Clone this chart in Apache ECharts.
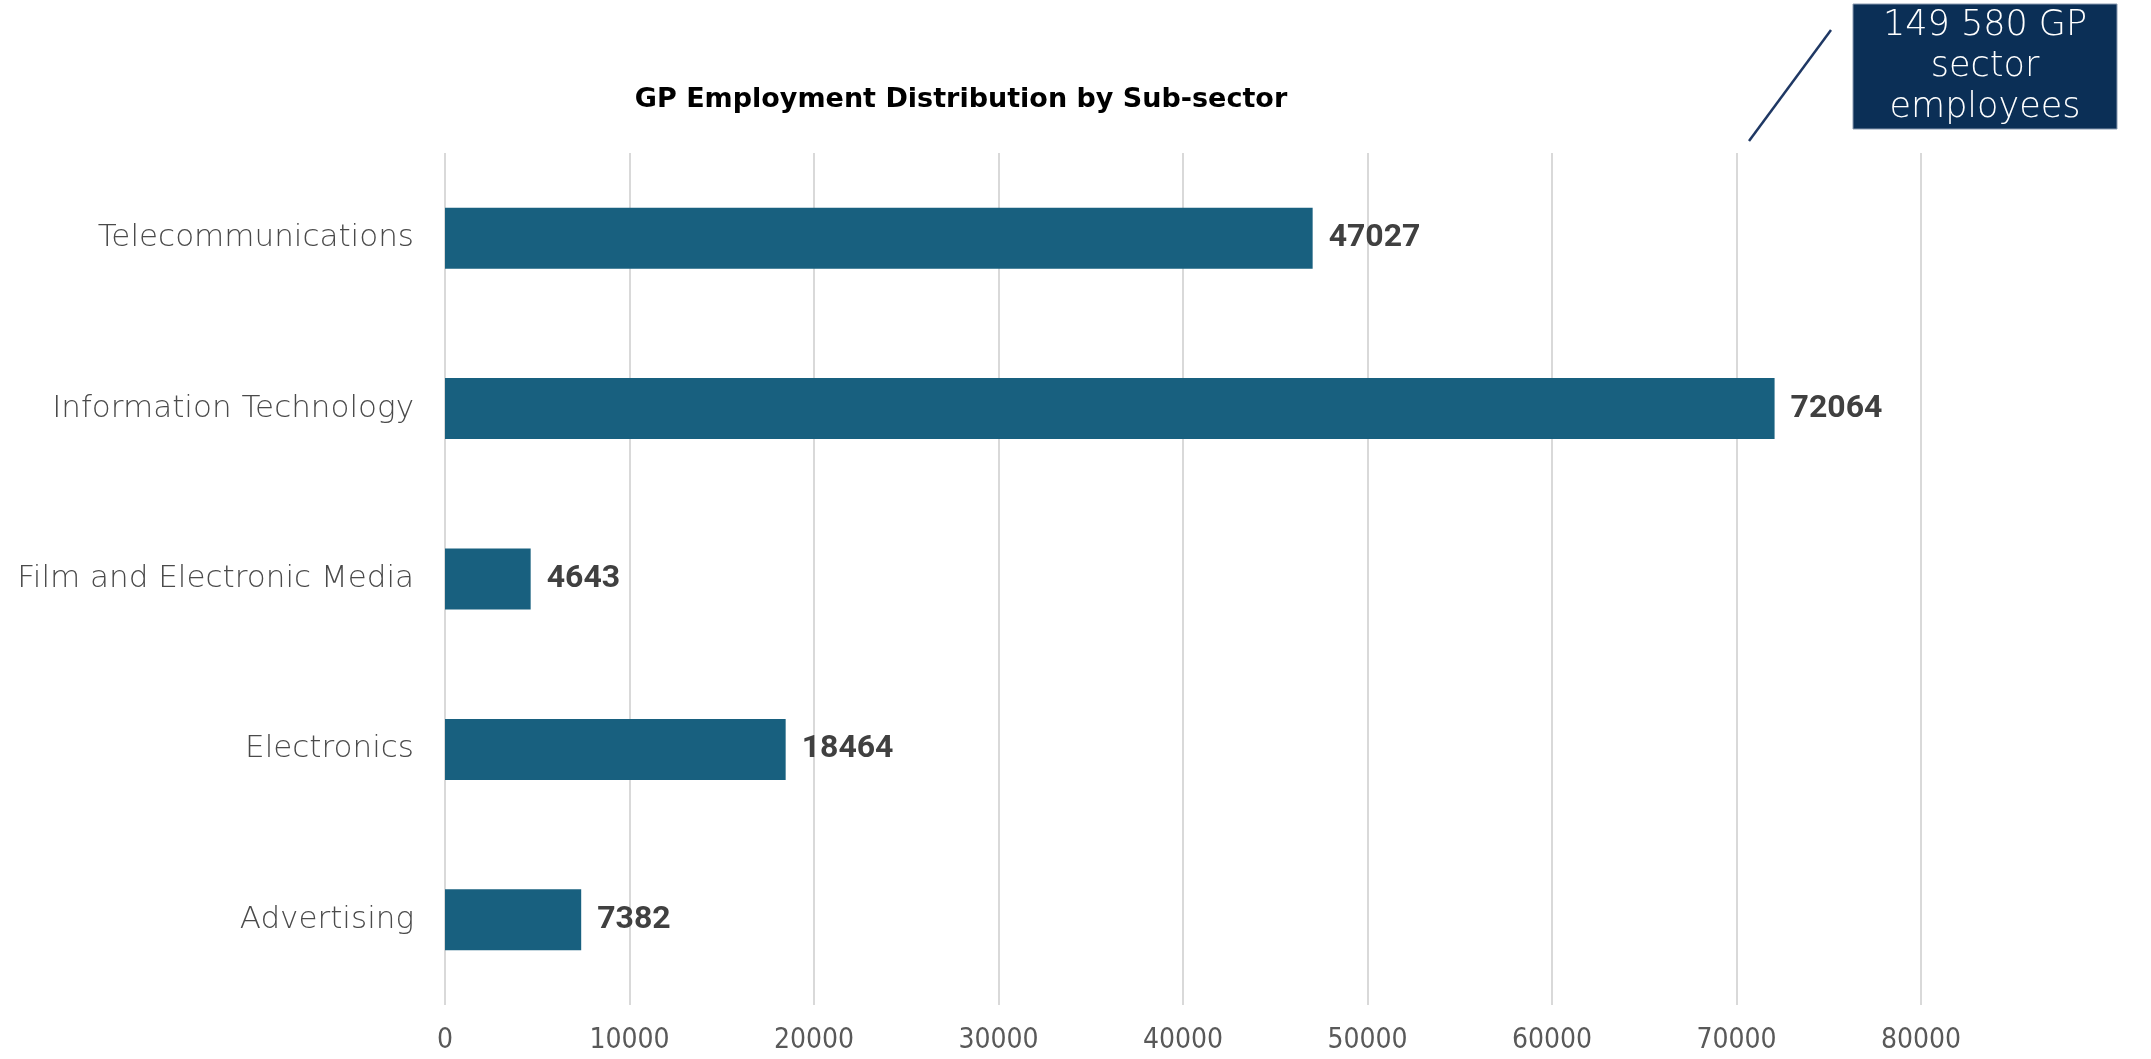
<!DOCTYPE html>
<html>
<head>
<meta charset="utf-8">
<title>GP Employment Distribution by Sub-sector</title>
<script src="https://cdn.jsdelivr.net/npm/echarts@6/dist/echarts.min.js"></script>
<style>
  html, body { margin: 0; padding: 0; background: #ffffff; }
  #chart { width: 2151px; height: 1059px; }
</style>
</head>
<body>
<div id="chart"></div>
<script>
// data
var subSectors = ['Telecommunications', 'Information Technology', 'Film and Electronic Media', 'Electronics', 'Advertising'];
var employees = [47027, 72064, 4643, 18464, 7382];
var axisTicks = [0, 10000, 20000, 30000, 40000, 50000, 60000, 70000, 80000];
var chartTitle = 'GP Employment Distribution by Sub-sector';
var calloutLines = ['149 580 GP', 'sector', 'employees'];

var myChart = echarts.init(document.getElementById('chart'));

myChart.setOption({
    animation: false,
    title: {
        text: chartTitle,
        left: 956,
        top: 81,
        textAlign: 'center',
        textStyle: {
            fontFamily: "'DejaVu Sans', sans-serif",
            fontWeight: 'bold',
            fontSize: 27,
            color: '#000000'
        }
    },
    grid: {
        left: 445,
        right: 230,
        top: 153,
        bottom: 54
    },
    xAxis: {
        type: 'value',
        min: axisTicks[0],
        max: axisTicks[axisTicks.length - 1],
        interval: axisTicks[1] - axisTicks[0],
        axisLine: { show: false },
        axisTick: { show: false },
        splitLine: { lineStyle: { color: '#d9d9d9', width: 2 } },
        axisLabel: {
            margin: 22,
            formatter: function (v) { return String(v); },
            fontFamily: "'DejaVu Sans Condensed', 'Liberation Sans Narrow', sans-serif",
            fontWeight: 200,
            fontSize: 28,
            color: '#595959'
        }
    },
    yAxis: {
        type: 'category',
        data: subSectors,
        inverse: true,
        axisLine: { show: false },
        axisTick: { show: false },
        axisLabel: {
            margin: 31,
            fontFamily: "'DejaVu Sans', sans-serif",
            fontWeight: 200,
            fontSize: 31,
            color: '#4a4a4a'
        }
    },
    series: [
        {
            type: 'bar',
            data: employees,
            barWidth: 61,
            itemStyle: { color: '#18607f' },
            label: {
                show: true,
                position: 'right',
                distance: 16,
                fontFamily: "Roboto, sans-serif",
                fontWeight: 'bold',
                fontSize: 32,
                color: '#404040'
            }
        }
    ],
    graphic: [
        {
            type: 'line',
            shape: { x1: 1749, y1: 141, x2: 1831, y2: 30 },
            style: { stroke: '#1f3864', lineWidth: 2.5 }
        },
        {
            type: 'rect',
            shape: { x: 1853, y: 4, width: 264, height: 125 },
            style: { fill: '#0b2f56', stroke: '#8a9ab0', lineWidth: 1 }
        },
        {
            type: 'text',
            x: 1985,
            y: 67,
            style: {
                text: calloutLines.join('\n'),
                align: 'center',
                verticalAlign: 'middle',
                fill: '#ffffff',
                fontFamily: "'DejaVu Sans', sans-serif",
                fontWeight: 200,
                fontSize: 35,
                lineHeight: 41
            }
        }
    ]
});
</script>
</body>
</html>
